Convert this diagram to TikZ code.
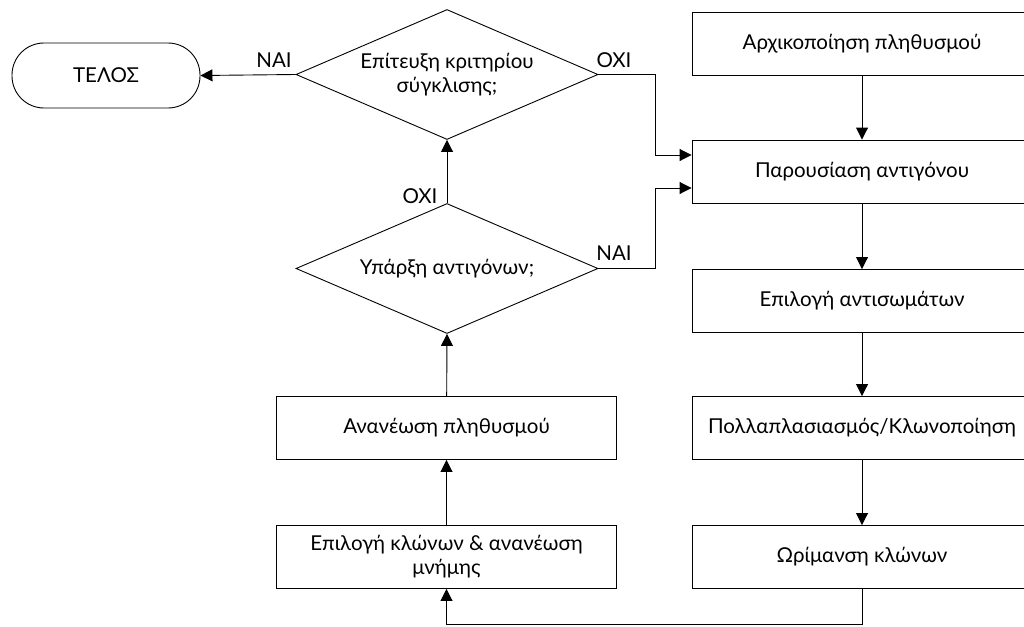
\documentclass[tikz,border=0pt]{standalone}
\usepackage{fontspec}
\setmainfont{Lato}
\usetikzlibrary{shapes.geometric,arrows.meta}

\tikzset{
  txt/.style={font=\fontsize{20.5}{24}\selectfont},
  flow/.style={txt, draw=black, line width=0.9pt, fill=white, minimum width=340pt,
    minimum height=63pt, inner sep=2pt, align=center},
  decision/.style={txt, draw=black, line width=0.9pt, diamond, shape aspect=2.3,
    minimum width=302pt, minimum height=130pt, inner sep=0pt, align=center},
  terminal/.style={txt, draw=black, line width=0.9pt, rounded corners=32pt,
    minimum width=188pt, minimum height=65pt},
  arr/.style={draw=black, line width=0.9pt, -{Triangle[length=12pt,width=12pt]}},
  lbl/.style={txt, inner sep=0pt}
}

\begin{document}
\begin{tikzpicture}[x=1pt,y=-1pt]
  \useasboundingbox (0,0) rectangle (1024,626);

  % right column: main loop of the algorithm
  \node[flow] (init)  at (862,43.5)  {Αρχικοποίηση πληθυσμού};
  \node[flow] (pres)  at (862,171.5) {Παρουσίαση αντιγόνου};
  \node[flow] (sel)   at (862,301)   {Επιλογή αντισωμάτων};
  \node[flow] (clone) at (862,428)   {Πολλαπλασιασμός/Κλωνοποίηση};
  \node[flow] (mat)   at (862,557)   {Ωρίμανση κλώνων};

  % left column
  \node[flow] (upd)   at (446.5,428) {Ανανέωση πληθυσμού};
  \node[flow] (mem)   at (446.5,557) {Επιλογή κλώνων \& ανανέωση\\μνήμης};

  \node[decision] (conv) at (447,74.5)  {Επίτευξη κριτηρίου\\σύγκλισης;};
  \node[decision] (anti) at (447,268.5) {Υπάρξη αντιγόνων;};

  \node[terminal] (stop) at (106,75.5) {ΤΕΛΟΣ};

  % branch labels
  \node[lbl] (yes1) at (274,60)  {ΝΑΙ};
  \node[lbl] (no1)  at (614,60)  {ΟΧΙ};
  \node[lbl] (no2)  at (420,196) {ΟΧΙ};
  \node[lbl] (yes2) at (614,253) {ΝΑΙ};

  % bend points of the returns into the antigen step
  \coordinate (bendA) at (655,155);
  \coordinate (bendB) at (655,188);
  \coordinate (low)   at (862,624);

  % connectors
  \draw[arr] (init) -- (pres);
  \draw[arr] (pres) -- (sel);
  \draw[arr] (sel) -- (clone);
  \draw[arr] (clone) -- (mat);
  \draw[arr] (mat.south) -- (low) -| (mem.south);
  \draw[arr] (mem) -- (upd);
  \draw[arr] (upd) -- (anti.south);
  \draw[arr] (anti.north) -- (conv.south);
  \draw[arr] (conv.west) -- (stop.east);
  \draw[arr] (conv.east) -| (bendA) -- (pres.west |- bendA);
  \draw[arr] (anti.east) -| (bendB) -- (pres.west |- bendB);
\end{tikzpicture}
\end{document}
